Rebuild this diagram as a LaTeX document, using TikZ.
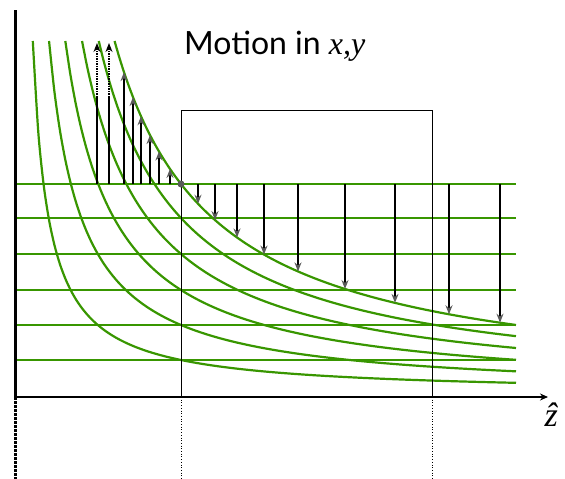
\documentclass[tikz,border=0pt]{standalone}
\usepackage{fontspec}
\setsansfont{Lato}
\newfontfamily\timesfont{Liberation Serif}
\usetikzlibrary{arrows.meta}
\definecolor{curvegreen}{RGB}{56,150,0}
\definecolor{tipgray}{RGB}{90,90,90}

\begin{document}
\begin{tikzpicture}[
  x=1pt, y=-1pt,
  level/.style={curvegreen, line width=1.8pt},
  orbit/.style={curvegreen, line width=2.2pt},
  push/.style={-{Stealth[length=9pt,width=7pt,color=tipgray]}, line width=1.4pt},
  ghost/.style={-{Stealth[length=9pt,width=7pt]}, line width=1.4pt, dash pattern=on 1.5pt off 1pt},
  guide/.style={line width=0.7pt, dotted}
]
  \useasboundingbox (0,0) rectangle (565,479);
  % axes
  \coordinate (origin) at (15,397);
  \coordinate (ytop) at (15,10);
  \coordinate (ybot) at (15,479);
  \coordinate (zend) at (548,397);
  % levels and orbits
  \foreach \ly in {360,325,290,254,218,184} {
    \pgfmathsetmacro{\k}{394-\ly}
    \pgfmathsetmacro{\xs}{17+164/353*\k}
    \draw[level] (15,\ly) -- (516,\ly);
    \draw[orbit] plot[domain=\xs:516, samples=90, smooth] (\x,{394-164/(\x-17)*\k});
  }
  \draw[line width=3pt] (ytop) -- (origin);
  \draw[line width=3pt, dash pattern=on 2.5pt off 1.5pt] (origin) -- (ybot);
  \draw[line width=1.2pt, -{Stealth[length=8pt,width=7pt]}] (origin) -- (zend);
  \node[anchor=west, font=\timesfont\itshape\fontsize{34}{36}\selectfont] (zlabel) at (541,415) {\^z};
  % box
  \coordinate (bl) at (181,397);
  \coordinate (tl) at (181,110);
  \coordinate (tr) at (432,110);
  \coordinate (br) at (432,397);
  \draw[line width=1pt] (bl) -- (tl) -- (tr) -- (br);
  \draw[guide] (bl) -- (181,479);
  \draw[guide] (br) -- (432,479);
  % arrows to the top orbit
  \foreach \x in {124,133,141,150,159,170,198,215,237,264,298,345,395,449,500}
    \draw[push] (\x,184) -- (\x,{394-164/(\x-17)*210});
  \foreach \x in {97,109} {
    \draw[line width=1.4pt] (\x,184) -- (\x,97);
    \draw[ghost] (\x,97) -- (\x,43);
  }
  \fill[tipgray] (181,184) circle (3.5pt);
  \node[anchor=base west, inner sep=0pt, font=\sffamily\fontsize{32}{36}\selectfont] (title) at (184,54) {Motion in {\timesfont\itshape x,y}};
\end{tikzpicture}
\end{document}
